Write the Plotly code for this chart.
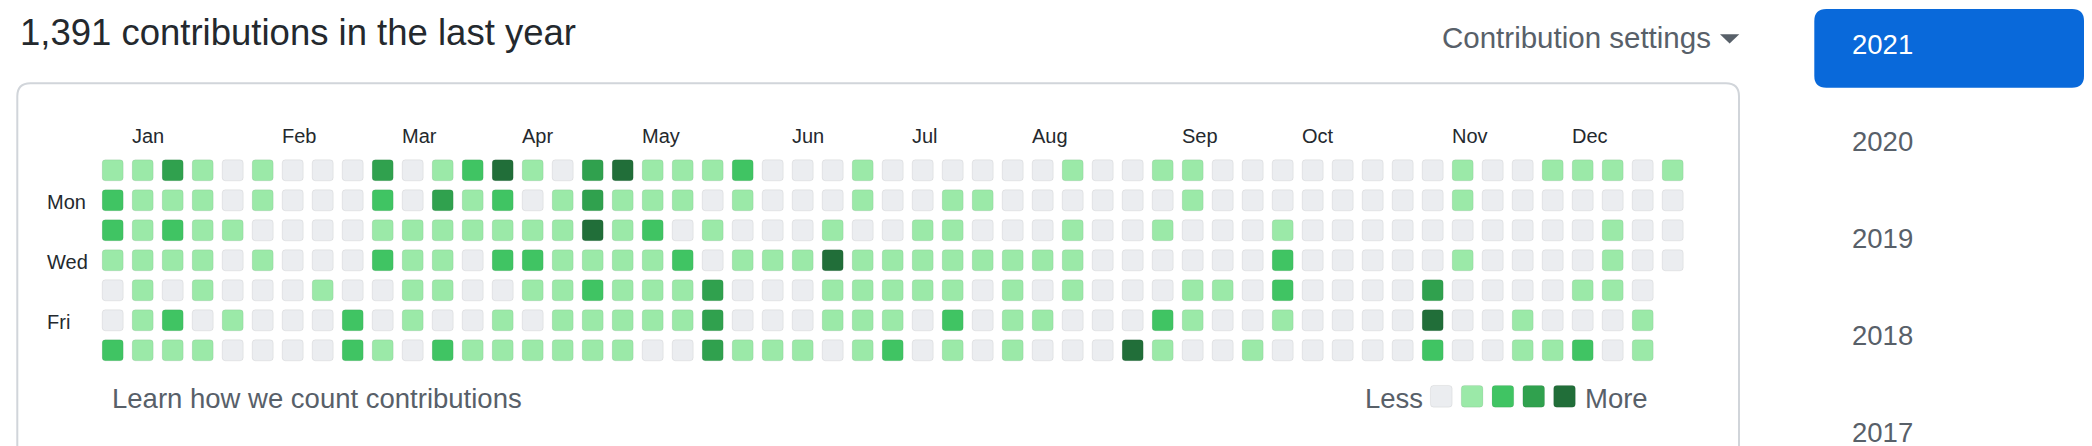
import plotly.graph_objects as go

# ---------------- data ----------------
weekdays = ["Sun", "Mon", "Tue", "Wed", "Thu", "Fri", "Sat"]

# contribution level (0-4) per week column, one list per weekday
sun = [1,1,3,1,0,1,0,0,0,3,0,1,2,4, 1,0,3,4,1,1,1,2,0,0,0,1,0,0, 0,0,0,0,1,0,0,1,1,0,0,0,0, 0,0,0,0,1,0,0,1,1,1,0,1]
mon = [2,1,1,1,0,1,0,0,0,2,0,3,1,2, 0,1,3,1,1,1,0,1,0,0,0,1,0, 0,1,1,0,0,0,0,0,0,1,0,0,0,0, 0,0,0,0,1,0,0,0,0,0,0,0]
tue = [2,1,2,1,1,0,0,0,0,1,1,1,1,1, 1,1,4,1,2,0,1,0,0,0,1,0,0, 1,1,0,0,0,1,0,0,1,0,0,0,1,0, 0,0,0,0,0,0,0,0,0,1,0,0]
wed = [1,1,1,1,0,1,0,0,0,2,1,1,0,2, 2,1,1,1,1,2,0,1,1,1,4,1,1, 1,1,1,1,1,1,0,0,0,0,0,0,2,0, 0,0,0,0,1,0,0,0,0,1,0,0]
thu = [0,1,0,1,0,0,0,1,0,0,1,1,0,0, 1,1,2,1,1,1,3,0,0,0,1,1,1, 1,1,0,1,0,1,0,0,0,1,1,0,2,0, 0,0,0,3,0,0,0,0,1,1,0, None]
fri = [0,1,2,0,1,0,0,0,2,0,1,0,0,1, 0,1,1,1,1,1,3,0,0,0,1,1,1, 0,2,0,1,1,0,0,0,2,1,0,0,1,0, 0,0,0,4,0,0,1,0,0,0,1, None]
sat = [2,1,1,1,0,0,0,0,2,1,0,2,1,1, 1,1,1,1,0,0,3,1,1,1,0,1,2, 0,1,0,1,0,0,0,4,1,0,0,1,0,0, 0,0,0,2,0,0,1,1,2,0,1, None]
week_rows = [sun, mon, tue, wed, thu, fri, sat]

level_colors = ["#ebedf0", "#9be9a8", "#40c463", "#30a14e", "#216e39"]
legend_levels = [0, 1, 2, 3, 4]

month_names = ["Jan", "Feb", "Mar", "Apr", "May", "Jun", "Jul", "Aug", "Sep", "Oct", "Nov", "Dec"]
month_start_week = [1, 6, 10, 14, 18, 23, 27, 31, 36, 40, 45, 49]

day_labels = ["Mon", "Wed", "Fri"]
day_label_rows = [1, 3, 5]

years = ["2021", "2020", "2019", "2018", "2017"]
selected_year = "2021"

total_contributions = "1,391"

# ---------------- layout constants ----------------
W, H = 2092, 446
FONT = "Liberation Sans, Arial, Helvetica, sans-serif"
DARK = "#24292e"
MUTED = "#586069"
PITCH = 30.0          # px per week / per weekday
GX0, GY0 = 112.7, 170.3   # pixel centre of week 0 / Sunday
LX0, LPITCH, LY0 = 1441.3, 30.8, 396.3  # legend squares


def X(px):
    return px / W


def Y(py):
    return 1 - py / H


def rrect(x0, y0, x1, y1, r):
    return (f"M {X(x0 + r)},{Y(y0)} L {X(x1 - r)},{Y(y0)} Q {X(x1)},{Y(y0)} {X(x1)},{Y(y0 + r)} "
            f"L {X(x1)},{Y(y1 - r)} Q {X(x1)},{Y(y1)} {X(x1 - r)},{Y(y1)} "
            f"L {X(x0 + r)},{Y(y1)} Q {X(x0)},{Y(y1)} {X(x0)},{Y(y1 - r)} "
            f"L {X(x0)},{Y(y0 + r)} Q {X(x0)},{Y(y0)} {X(x0 + r)},{Y(y0)} Z")


# ---------------- cells ----------------
xs, ys, cols, hov = [], [], [], []
for r, row in enumerate(week_rows):
    for c, v in enumerate(row):
        if v is None:
            continue
        xs.append(c)
        ys.append(r)
        cols.append(level_colors[v])
        hov.append(f"{weekdays[r]}, week {c + 1}: level {v}")

fig = go.Figure()
fig.add_trace(go.Scatter(
    x=xs, y=ys, mode="markers",
    marker=dict(symbol="square", size=21, color=cols,
                line=dict(width=1, color="rgba(27,31,35,0.07)")),
    text=hov, hoverinfo="text", showlegend=False, xaxis="x", yaxis="y"))

fig.add_trace(go.Scatter(
    x=legend_levels, y=[0] * len(legend_levels), mode="markers",
    marker=dict(symbol="square", size=21.7, color=[level_colors[l] for l in legend_levels],
                line=dict(width=1, color="rgba(27,31,35,0.07)")),
    hoverinfo="skip", showlegend=False, xaxis="x2", yaxis="y2"))

xa0 = -GX0 / PITCH
ya0 = -GY0 / PITCH
lxa0 = -LX0 / LPITCH
lya0 = -LY0 / PITCH

fig.update_layout(
    width=W, height=H,
    margin=dict(l=0, r=0, t=0, b=0),
    paper_bgcolor="white", plot_bgcolor="rgba(0,0,0,0)",
    font=dict(family=FONT, color=DARK),
    xaxis=dict(range=[xa0, xa0 + W / PITCH], visible=False, fixedrange=True, domain=[0, 1]),
    yaxis=dict(range=[ya0 + H / PITCH, ya0], visible=False, fixedrange=True, domain=[0, 1]),
    xaxis2=dict(range=[lxa0, lxa0 + W / LPITCH], visible=False, fixedrange=True,
                overlaying="x", anchor="y2"),
    yaxis2=dict(range=[lya0 + H / PITCH, lya0], visible=False, fixedrange=True,
                overlaying="y", anchor="x2"),
    hovermode="closest",
)

shapes = [
    # outer box of the calendar
    dict(type="path", xref="paper", yref="paper", path=rrect(17.3, 83.3, 1739.0, 470, 13),
         line=dict(color="#d1d5da", width=2), fillcolor="rgba(0,0,0,0)", layer="below"),
    # selected-year button
    dict(type="path", xref="paper", yref="paper", path=rrect(1814.3, 9.0, 2084.0, 87.7, 12),
         line=dict(width=0), fillcolor="#0969da", layer="below"),
    # dropdown caret
    dict(type="path", xref="paper", yref="paper",
         path=f"M {X(1720)},{Y(34.3)} L {X(1739.3)},{Y(34.3)} L {X(1729.6)},{Y(43.6)} Z",
         line=dict(width=0), fillcolor=MUTED),
]

ann = []


def text(x, y, s, size, color, xref="paper", yref="paper", anchor="left"):
    ann.append(dict(x=x, y=y, xref=xref, yref=yref, text=s, showarrow=False,
                    xanchor=anchor, yanchor="middle",
                    font=dict(family=FONT, size=size, color=color)))


text(X(18), Y(33), f"{total_contributions} contributions in the last year", 36.5, DARK)
text(X(1440), Y(37), "Contribution settings", 29.5, MUTED)
text(X(110), Y(398), "Learn how we count contributions", 27.5, MUTED)
text(X(1363), Y(398), "Less", 27.5, MUTED)
text(X(1582.5), Y(398), "More", 27.5, MUTED)

for name, wk in zip(month_names, month_start_week):
    text(wk - 11 / PITCH - 2 / PITCH, (136 - GY0) / PITCH, name, 20, DARK, xref="x", yref="y")

for name, r in zip(day_labels, day_label_rows):
    text(X(45), r + 1.5 / PITCH, name, 20, DARK, yref="y")

for i, yr in enumerate(years):
    text(X(1850), Y(45 + 96.9 * i), yr, 27.5, "white" if yr == selected_year else MUTED)

fig.update_layout(shapes=shapes, annotations=ann)

# page tweaks: no body margin, and round the corners of the square markers
post_js = """
document.body.style.margin='0px';
document.body.style.padding='0px';
document.body.style.overflow='hidden';
function roundCells(){
  document.querySelectorAll('.scatterlayer path.point').forEach(function(p){
    var d = p.getAttribute('d') || '';
    var m = /^M([\\d.]+),([\\d.]+)H-/.exec(d);
    if(!m) return;
    var r = parseFloat(m[1]), k = 3.2;
    var nd = 'M'+r+','+(r-k)+'Q'+r+','+r+' '+(r-k)+','+r+'H'+(-r+k)+'Q'+(-r)+','+r+' '+(-r)+','+(r-k)+
             'V'+(-r+k)+'Q'+(-r)+','+(-r)+' '+(-r+k)+','+(-r)+'H'+(r-k)+'Q'+r+','+(-r)+' '+r+','+(-r+k)+'Z';
    p.setAttribute('d', nd);
  });
}
roundCells();
"""

fig.write_html("out.html", config={"displayModeBar": False}, post_script=post_js)
